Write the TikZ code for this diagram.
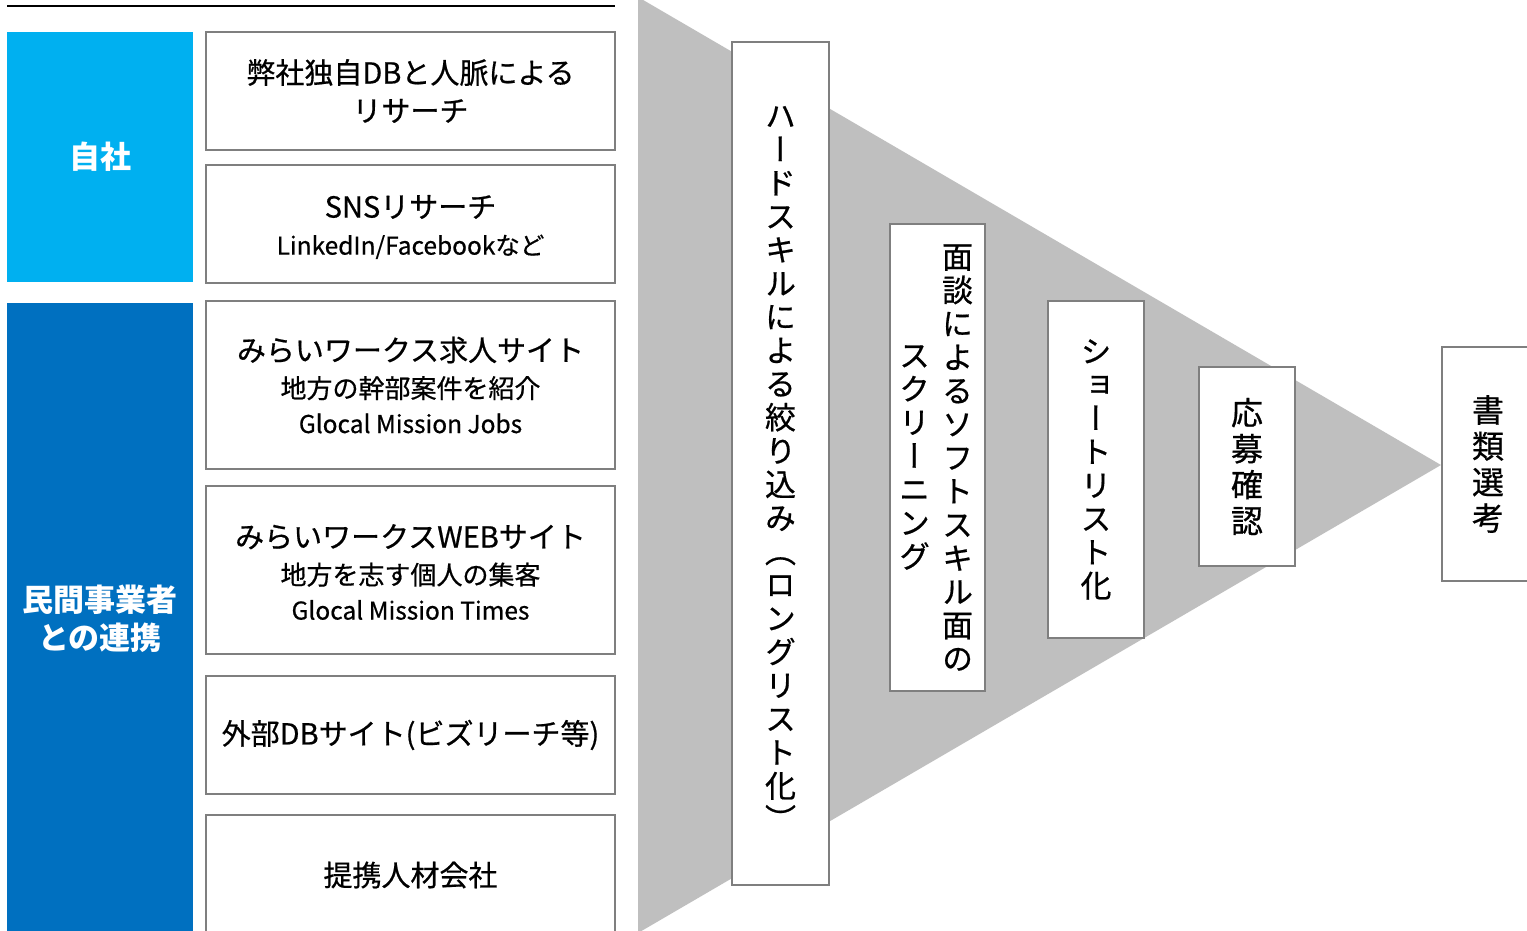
\documentclass[tikz,border=0pt]{standalone}
\usepackage{fontspec}
\setmainfont{Noto Sans CJK JP}[FakeBold=0.6]
\newfontfamily\jpv{Noto Sans CJK JP}[RawFeature=+vert, FakeBold=0.6]
\newfontfamily\jplabel{Noto Sans CJK JP}
\definecolor{cyanbox}{HTML}{00B0F0}
\definecolor{bluebox}{HTML}{0070C0}
\definecolor{funnelgray}{HTML}{BFBFBF}
\definecolor{bordergray}{HTML}{7F7F7F}
\newcommand{\szA}{\fontsize{29}{37}\selectfont}
\newcommand{\szB}{\fontsize{26}{37}\selectfont}
\newcommand{\szC}{\fontsize{24.5}{37}\selectfont}
\begin{document}
\begin{tikzpicture}[x=1pt,y=-1pt,
  wbox/.style={draw=bordergray, line width=2pt, fill=white, inner sep=0pt,
    minimum width=409, align=center, text=black, font=\fontsize{29}{37}\selectfont},
  lbox/.style={inner sep=0pt, minimum width=186, align=center, text=white,
    font=\jplabel\bfseries\fontsize{31}{38}\selectfont},
  vbox/.style={draw=bordergray, line width=2pt, fill=white, inner sep=0pt},
  vtext/.style={inner sep=0pt, align=center, text=black,
    font=\jpv\fontsize{31}{33.5}\selectfont},
  vtextw/.style={inner sep=0pt, align=center, text=black,
    font=\jpv\fontsize{32}{36}\selectfont}]
\useasboundingbox (0,0) rectangle (1527,930);
\clip (0,0) rectangle (1527,930);
\fill[white] (0,0) rectangle (1527,930);
% top rule
\coordinate (ruleL) at (7,6);
\coordinate (ruleR) at (615,6);
\draw[line width=1.2pt, black] (ruleL) -- (ruleR);
% left category boxes
\node[lbox, fill=cyanbox, minimum height=250] (jisha) at (100,157) {自社};
\node[lbox, fill=bluebox, minimum height=632] (minkan) at (100,619) {民間事業者\\との連携};
% source boxes
\node[wbox, minimum height=118] (b1) at (410.5,91)
  {\szA 弊社独自DBと人脈による\\[1pt]\szA リサーチ};
\node[wbox, minimum height=118] (b2) at (410.5,224) {};
\node[inner sep=0pt, align=center, font=\fontsize{29}{37}\selectfont] (b2t) at ([yshift=-3]b2.center)
  {\szA SNSリサーチ\\\szC LinkedIn/Facebookなど};
\node[wbox, minimum height=168] (b3) at (410.5,385)
  {\szA みらいワークス求人サイト\\\szB 地方の幹部案件を紹介\\[-2pt]\szC Glocal Mission Jobs};
\node[wbox, minimum height=168] (b4) at (410.5,570) {};
\node[inner sep=0pt, align=center, font=\fontsize{29}{37}\selectfont] (b4t) at ([yshift=-2]b4.center)
  {\szA みらいワークスWEBサイト\\\szB 地方を志す個人の集客\\[-2pt]\szC Glocal Mission Times};
\node[wbox, minimum height=118] (b5) at (410.5,735)
  {\fontsize{29}{37}\selectfont 外部DBサイト(ビズリーチ等)};
\node[wbox, minimum height=120] (b6) at (410.5,875)
  {\szA 提携人材会社};
% funnel
\coordinate (fTop) at (638,-3);
\coordinate (fBot) at (638,933);
\coordinate (fApex) at (1441,465);
\fill[funnelgray] (fTop) -- (fApex) -- (fBot) -- cycle;
% stage boxes
\node[vbox, minimum width=97, minimum height=843] (v1) at (780.5,463.5) {};
\node[vtext] (v1t) at ([yshift=-5]v1.center)
  {ハ\\ー\\ド\\ス\\キ\\ル\\に\\よ\\る\\絞\\り\\込\\み\\（\\ロ\\ン\\グ\\リ\\ス\\ト\\化\\）};
\node[vbox, minimum width=95, minimum height=467] (v2) at (937.5,457.5) {};
\node[vtext] (v2a) at ([xshift=20]v2.center)
  {面\\談\\に\\よ\\る\\ソ\\フ\\ト\\ス\\キ\\ル\\面\\の};
\node[vtext] (v2b) at ([xshift=-23]v2.center)
  {ス\\ク\\リ\\ー\\ニ\\ン\\グ};
\node[vbox, minimum width=96, minimum height=337] (v3) at (1096,469.5) {};
\node[vtext] (v3t) at (v3.center) {シ\\ョ\\ー\\ト\\リ\\ス\\ト\\化};
\node[vbox, minimum width=96, minimum height=199] (v4) at (1247,466.5) {};
\node[vtextw] (v4t) at (v4.center) {応\\募\\確\\認};
\node[vbox, minimum width=96, minimum height=234] (v5) at (1490,464) {};
\node[vtextw] (v5t) at ([xshift=-2]v5.center) {書\\類\\選\\考};
\end{tikzpicture}
\end{document}
